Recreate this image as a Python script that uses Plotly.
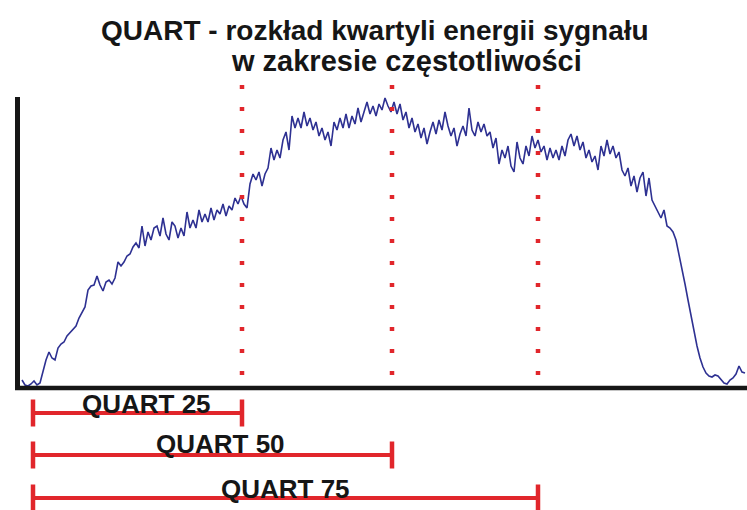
import plotly.graph_objects as go

W, H = 747, 510

# frequency bins (sampling grid of the spectrum)
freq = list(range(6, 730, 3))
# signal energy level
level = [
    8, 3, 2, 4, 7, 3, 5, 16, 28, 36,
    30, 28, 40, 44, 46, 52, 55, 59, 62, 70,
    75, 81, 98, 102, 103, 112, 103, 97, 106, 108,
    104, 110, 126, 122, 126, 132, 134, 141, 145, 140,
    162, 142, 156, 148, 160, 162, 152, 170, 154, 148,
    166, 162, 150, 160, 152, 176, 160, 168, 160, 178,
    166, 174, 166, 180, 168, 178, 174, 184, 172, 182,
    178, 190, 184, 192, 184, 180, 204, 214, 208, 216,
    202, 214, 220, 240, 228, 238, 230, 248, 256, 238,
    272, 260, 270, 260, 276, 262, 270, 258, 266, 252,
    260, 248, 256, 242, 266, 258, 270, 260, 274, 260,
    272, 264, 280, 266, 276, 286, 274, 282, 272, 284,
    278, 290, 282, 276, 286, 274, 284, 268, 276, 260,
    270, 256, 264, 250, 260, 244, 256, 266, 254, 268,
    258, 276, 262, 252, 260, 242, 254, 262, 252, 280,
    258, 252, 266, 256, 264, 252, 256, 240, 250, 224,
    238, 230, 242, 222, 216, 246, 230, 224, 242, 232,
    252, 240, 248, 236, 242, 228, 240, 230, 238, 228,
    242, 232, 248, 254, 242, 252, 238, 246, 230, 238,
    226, 232, 218, 242, 232, 248, 234, 242, 230, 236,
    218, 212, 220, 202, 212, 196, 210, 216, 192, 210,
    188, 182, 176, 170, 178, 162, 160, 156, 148, 134,
    120, 104, 88, 72, 56, 42, 30, 21, 15, 12,
    11, 13, 12, 8, 5, 4, 8, 10, 14, 22,
    16, 15,
]
n = min(len(freq), len(level))
freq, level = freq[:n], level[:n]

quart_labels = ["QUART 25", "QUART 50", "QUART 75"]
quart_pos = [226, 376, 522]   # quartile frequencies
band_start = 17

RED = "#e1262b"
NAVY = "#2e3192"
INK = "#161616"
FONT = "Liberation Sans, Arial, sans-serif"


def px(x):
    return x / W


def py(y):
    return 1 - y / H


fig = go.Figure()
fig.add_trace(go.Scatter(x=freq, y=level, mode="lines",
                         line=dict(color=NAVY, width=1.6), hoverinfo="skip"))

shapes = []
# axes
shapes.append(dict(type="line", xref="paper", yref="paper", x0=px(17.5), x1=px(17.5),
                   y0=py(97), y1=py(390), line=dict(color=INK, width=5)))
shapes.append(dict(type="line", xref="paper", yref="paper", x0=px(15), x1=px(747),
                   y0=py(388), y1=py(388), line=dict(color=INK, width=4.5)))

# dotted quartile lines
for q in quart_pos:
    shapes.append(dict(type="line", xref="x", yref="paper", x0=q, x1=q,
                       y0=py(375), y1=py(85),
                       line=dict(color=RED, width=4.5, dash="4px,18px")))

# range bars
bar_y = [413, 455, 498]
cap_half = 13.5
annotations = []
label_y = [404, 444, 489]
label_x = [146, 220, 285]
for lab, q, by, ly, lx in zip(quart_labels, quart_pos, bar_y, label_y, label_x):
    shapes.append(dict(type="line", xref="x", yref="paper", x0=band_start, x1=q,
                       y0=py(by), y1=py(by), line=dict(color=RED, width=4)))
    for cx in (band_start, q):
        shapes.append(dict(type="line", xref="x", yref="paper", x0=cx, x1=cx,
                           y0=py(by - cap_half), y1=py(by + cap_half),
                           line=dict(color=RED, width=4.5)))
    annotations.append(dict(text=lab, xref="paper", yref="paper", x=px(lx), y=py(ly),
                            xanchor="center", yanchor="middle", showarrow=False,
                            font=dict(family=FONT, size=26, color=INK, weight="bold")))

annotations.append(dict(text="QUART - rozkład kwartyli energii sygnału", xref="paper", yref="paper",
                        x=px(375), y=py(30), xanchor="center", yanchor="middle", showarrow=False,
                        font=dict(family=FONT, size=28, color=INK, weight="bold")))
annotations.append(dict(text="w zakresie częstotliwości", xref="paper", yref="paper",
                        x=px(406), y=py(61), xanchor="center", yanchor="middle", showarrow=False,
                        font=dict(family=FONT, size=29, color=INK, weight="bold")))

fig.update_layout(
    width=W, height=H,
    margin=dict(l=0, r=0, t=0, b=0),
    paper_bgcolor="white", plot_bgcolor="white",
    showlegend=False,
    xaxis=dict(domain=[px(16), 1], range=[0, 731], visible=False, fixedrange=True),
    yaxis=dict(domain=[py(388), py(97)], range=[0, 291], visible=False, fixedrange=True),
    shapes=shapes,
    annotations=annotations,
)

fig.write_html("out.html", config={"displayModeBar": False},
               post_script="document.body.style.margin='0';document.body.style.overflow='hidden';")
